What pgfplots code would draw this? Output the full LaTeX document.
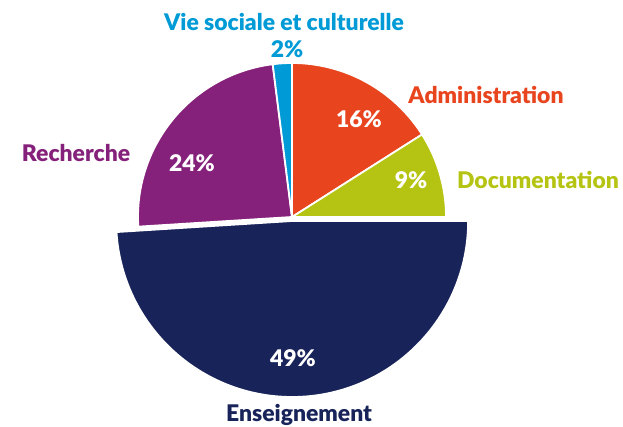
\documentclass[border=0pt]{standalone}
\usepackage{pgfplots}
\usepackage{pgfplotstable}
\pgfplotsset{compat=1.18}
\usetikzlibrary{calc}
\usepackage{fontspec}
\setmainfont{Lato}[UprightFont=* Black, BoldFont=* Black]
\definecolor{cVie}{HTML}{009BD6}
\definecolor{cAdm}{HTML}{E8441E}
\definecolor{cDoc}{HTML}{B5C412}
\definecolor{cRec}{HTML}{85217A}
\definecolor{cEns}{HTML}{18235A}

% share (%), colour, radius, centre shift (px)
\pgfplotstableread{
idx name value col radius shift
0 Administration 16 cAdm 154 0
1 Documentation 9 cDoc 154 0
2 Enseignement 49 cEns 176 4
3 Recherche 24 cRec 154 0
4 Vie 2 cVie 154 0
}\piedata

\xdef\cum{90}
\foreach \i in {0,...,4}{%
  \pgfplotstablegetelem{\i}{value}\of\piedata
  \pgfmathsetmacro\v{\pgfplotsretval}%
  \pgfmathsetmacro\e{\cum - 3.6*\v}%
  \pgfmathsetmacro\m{(\cum+\e)/2}%
  \expandafter\xdef\csname sa\i\endcsname{\cum}%
  \expandafter\xdef\csname ea\i\endcsname{\e}%
  \expandafter\xdef\csname ma\i\endcsname{\m}%
  \pgfplotstablegetelem{\i}{col}\of\piedata
  \expandafter\xdef\csname col\i\endcsname{\pgfplotsretval}%
  \pgfplotstablegetelem{\i}{radius}\of\piedata
  \expandafter\xdef\csname rad\i\endcsname{\pgfplotsretval}%
  \pgfplotstablegetelem{\i}{shift}\of\piedata
  \expandafter\xdef\csname sh\i\endcsname{\pgfplotsretval}%
  \xdef\cum{\e}%
}

\begin{document}
\begin{tikzpicture}
\begin{axis}[
  hide axis, scale only axis,
  width=623bp, height=427bp,
  xmin=0, xmax=623, ymin=0, ymax=427,
  clip=false,
]
\path (axis cs:0,0) (axis cs:623,427);
\pgfplotsinvokeforeach{0,1,3,4,2}{
  \fill[\csname col#1\endcsname, draw=white, line width=1.8bp, line join=round]
    ($(axis cs:292,210)+(\csname ma#1\endcsname:\csname sh#1\endcsname bp)$)
    -- ++(\csname sa#1\endcsname:\csname rad#1\endcsname bp)
    arc[start angle=\csname sa#1\endcsname, end angle=\csname ea#1\endcsname, radius=\csname rad#1\endcsname bp]
    -- cycle;
}
\tikzset{lab/.style={font=\fontsize{23}{26}\selectfont, inner sep=0pt}}
\node[lab, text=cVie] at (axis cs:284,405) {Vie sociale et culturelle};
\node[lab, text=cVie] at (axis cs:287,378) {2\%};
\node[lab, text=cAdm] at (axis cs:486,332) {Administration};
\node[lab, text=white] at (axis cs:359,308) {16\%};
\node[lab, text=cDoc] at (axis cs:538,247) {Documentation};
\node[lab, text=white] at (axis cs:411,247) {9\%};
\node[lab, text=cRec] at (axis cs:76,274) {Recherche};
\node[lab, text=white] at (axis cs:192,264) {24\%};
\node[lab, text=white] at (axis cs:293,69) {49\%};
\node[lab, text=cEns] at (axis cs:299,12) {Enseignement};
\end{axis}
\end{tikzpicture}
\end{document}
